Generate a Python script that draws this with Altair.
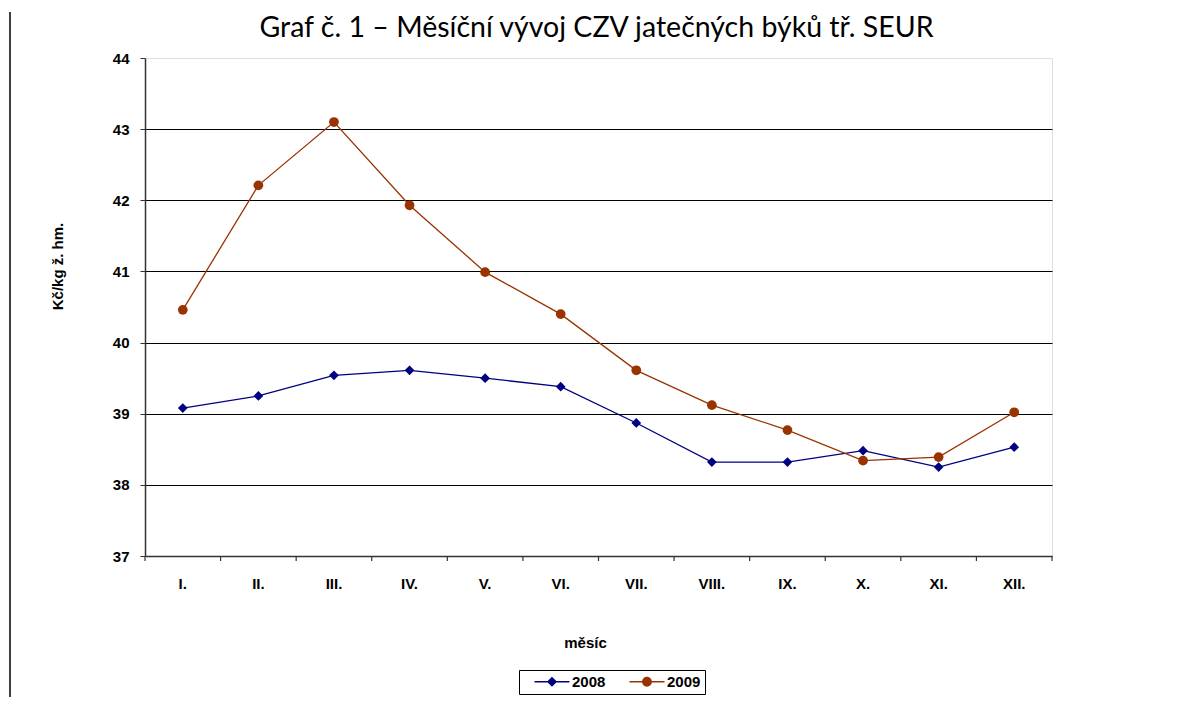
import altair as alt
import pandas as pd

months = ["I.", "II.", "III.", "IV.", "V.", "VI.", "VII.", "VIII.", "IX.", "X.", "XI.", "XII."]
v2008 = [39.08, 39.25, 39.54, 39.61, 39.50, 39.38, 38.87, 38.32, 38.32, 38.48, 38.25, 38.53]
v2009 = [40.46, 42.21, 43.10, 41.93, 40.99, 40.40, 39.61, 39.12, 38.77, 38.34, 38.39, 39.02]
years = ["2008", "2009"]
colors = ["#000080", "#993300"]
shapes = ["diamond", "circle"]
y_ticks = [37, 38, 39, 40, 41, 42, 43, 44]
title_text = "Graf č. 1 – Měsíční vývoj CZV jatečných býků tř. SEUR"

rows = []
for yr, vals in zip(years, [v2008, v2009]):
    for m, v in zip(months, vals):
        rows.append({"month": m, "year": yr, "value": v})
df = pd.DataFrame(rows)
mdf = pd.DataFrame({"month": months})

W, H = 907, 498
FONT = "Liberation Sans"
FS = 15

# legend symbols: short line with the marker in the middle (unit = 7px)
leg_diamond = "M0.57,-0.09H5.57V0.09H0.57Z M3.07,-0.72L3.79,0L3.07,0.72L2.35,0Z"
leg_circle = "M0.57,-0.09H5.57V0.09H0.57Z M2.37,0A0.7,0.7 0 1,1 3.77,0A0.7,0.7 0 1,1 2.37,0Z"

xscale = alt.Scale(type="band", domain=months, paddingInner=0, paddingOuter=0)
yscale = alt.Scale(domain=[37, 44], nice=False, zero=False)

x_enc = alt.X(
    "month:N", sort=months, scale=xscale,
    axis=alt.Axis(
        title="měsíc", ticks=False, labelAngle=0, labelAlign="center", labelPadding=27,
        labelFont=FONT, labelFontSize=FS, labelFontWeight="bold", labelColor="#000",
        domainColor="#333", domainWidth=1.5,
        titleFont=FONT, titleFontSize=FS, titleFontWeight="bold", titleColor="#000",
        titleX=440, titleY=86, titleBaseline="middle", titleAnchor="start", titleAlign="center",
    ),
)
y_enc = alt.Y(
    "value:Q", scale=yscale,
    axis=alt.Axis(
        values=y_ticks, title="Kč/kg ž. hm.", format="d",
        labelFont=FONT, labelFontSize=FS, labelFontWeight="bold", labelColor="#000",
        labelPadding=11, tickSize=5, tickColor="#333", domainColor="#333", domainWidth=1.5,
        grid=True, gridColor="#000", gridWidth=1,
        gridOpacity={"condition": {"test": "datum.value == 44 || datum.value == 37", "value": 0}, "value": 1},
        titleFont=FONT, titleFontSize=FS, titleFontWeight="bold", titleColor="#000",
        titleAngle=270, titleX=-88, titleY=208, titleAlign="center", titleBaseline="middle",
    ),
)

color_plain = alt.Color("year:N", scale=alt.Scale(domain=years, range=colors), legend=None)

base = alt.Chart(df)
lines = base.mark_line(strokeWidth=1.3).encode(x=x_enc, y=y_enc, color=color_plain, detail="year:N")
points = base.mark_point(filled=True, size=95, opacity=1).encode(
    x=x_enc, y=y_enc, color=color_plain,
    shape=alt.Shape("year:N", scale=alt.Scale(domain=years, range=shapes), legend=None),
)

leg_props = dict(
    title=None, orient="none", legendX=374, legendY=612, direction="horizontal",
    strokeColor="#000", padding=4, fillColor="#fff",
    labelFont=FONT, labelFontSize=FS, labelFontWeight="bold", labelColor="#000",
    symbolSize=196, symbolOpacity=1, symbolStrokeWidth=0, columnPadding=12, labelOffset=34,
)
legend_layer = base.mark_point(filled=True, opacity=0).encode(
    x=x_enc, y=y_enc,
    color=alt.Color("year:N", scale=alt.Scale(domain=years, range=colors), legend=alt.Legend(**leg_props)),
    shape=alt.Shape("year:N", scale=alt.Scale(domain=years, range=[leg_diamond, leg_circle]), legend=alt.Legend(**leg_props)),
)

ticks = alt.Chart(mdf).mark_rule(color="#333", strokeWidth=1.2).encode(
    x=alt.X("month:N", sort=months, scale=xscale, bandPosition=0),
    y=alt.value(H), y2=alt.value(H + 5),
)
end_tick = alt.Chart(mdf.head(1)).mark_rule(color="#333", strokeWidth=1.2).encode(
    x=alt.value(W), y=alt.value(H), y2=alt.value(H + 5)
)
frame_line = alt.Chart(mdf.head(1)).mark_rule(color="#000", strokeWidth=1.5).encode(
    x=alt.value(-135), y=alt.value(-46), y2=alt.value(H + 160)
)
title = alt.Chart(pd.DataFrame({"t": [title_text]})).mark_text(
    font="Lato", fontSize=28.5, color="#000", align="center", baseline="middle"
).encode(text="t:N", x=alt.value(W / 2 - 2), y=alt.value(-30))

chart = alt.layer(ticks, end_tick, frame_line, lines, points, legend_layer, title).resolve_scale(
    color="independent", shape="independent"
).properties(
    width=W, height=H,
    autosize=alt.AutoSizeParams(type="none"),
    padding={"left": 137, "top": 50, "right": 142, "bottom": 141},
).configure_view(stroke="#8c8c8c", strokeWidth=1.5).configure(background="#ffffff")

chart.save("out.html", embed_options={"renderer": "svg", "actions": False})
